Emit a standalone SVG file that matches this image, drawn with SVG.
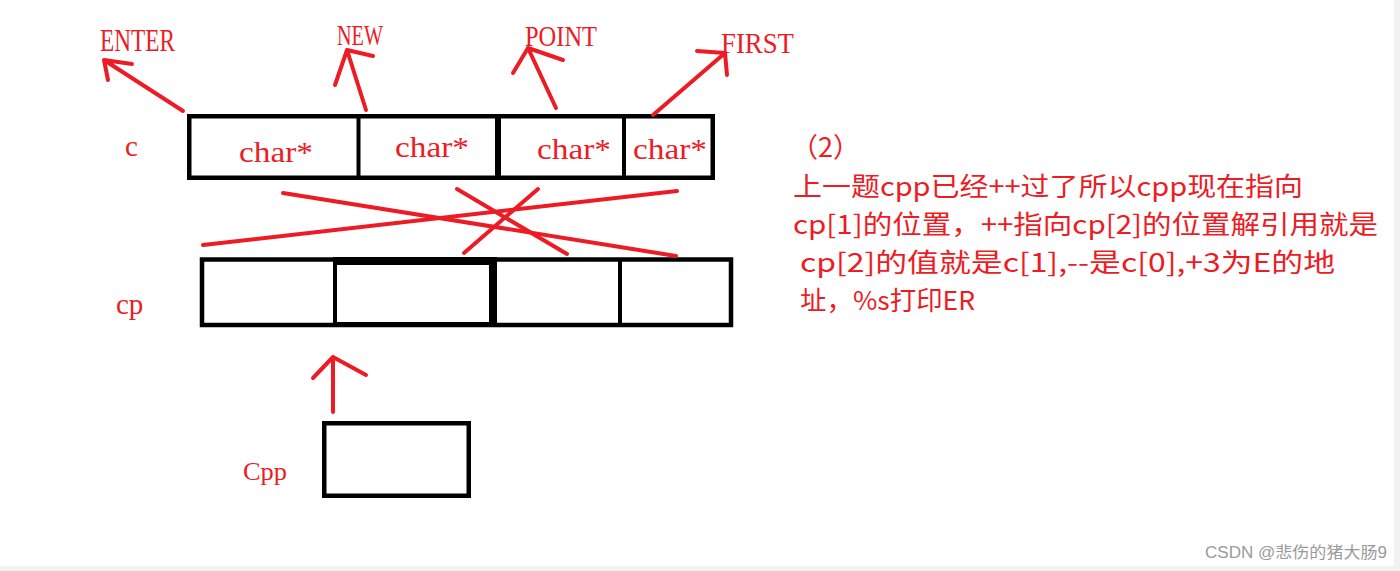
<svg xmlns="http://www.w3.org/2000/svg" width="1400" height="571" viewBox="0 0 1400 571">
<style>
.box{fill:none;stroke:#000;stroke-width:4.5}
.dv{stroke:#000;stroke-width:4}
.pen{fill:none;stroke:#ED1C24;stroke-width:4;stroke-linecap:round;stroke-linejoin:round}
.lbl{font-family:"Liberation Serif",serif;fill:#ED1C24}
.cjk{font-family:"Noto Sans CJK SC",sans-serif;fill:#ED1C24;font-size:26px}
.wm{font-family:"Liberation Sans","Noto Sans CJK SC",sans-serif;fill:#9a9a9a;font-size:16px}
</style>
<rect x="0" y="0" width="1400" height="571" fill="#f2f2f2"/>
<rect x="0" y="0" width="1394" height="566" fill="#ffffff"/>

<g id="label-enter"><text class="lbl" x="100" y="51" font-size="32" textLength="75" lengthAdjust="spacingAndGlyphs">ENTER</text></g>
<g id="label-new"><text class="lbl" x="337" y="45" font-size="30" textLength="46" lengthAdjust="spacingAndGlyphs">NEW</text></g>
<g id="label-point"><text class="lbl" x="525" y="46" font-size="30" textLength="72" lengthAdjust="spacingAndGlyphs">POINT</text></g>
<g id="label-first"><text class="lbl" x="721" y="53" font-size="30" textLength="73" lengthAdjust="spacingAndGlyphs">FIRST</text></g>

<g id="node-c">
<text class="lbl" x="125" y="156" font-size="29">c</text>
<rect class="box" x="189.25" y="116.25" width="523.5" height="61.5"/>
<line class="dv" x1="358.5" y1="116" x2="358.5" y2="178"/>
<line class="dv" x1="498" y1="116" x2="498" y2="178" style="stroke-width:6"/>
<line class="dv" x1="624" y1="116" x2="624" y2="178"/>
<text class="lbl" x="239" y="162" font-size="29" textLength="74" lengthAdjust="spacingAndGlyphs">char*</text>
<text class="lbl" x="395" y="157" font-size="29" textLength="74" lengthAdjust="spacingAndGlyphs">char*</text>
<text class="lbl" x="537" y="159" font-size="29" textLength="74" lengthAdjust="spacingAndGlyphs">char*</text>
<text class="lbl" x="633" y="159" font-size="29" textLength="74" lengthAdjust="spacingAndGlyphs">char*</text>
</g>

<g id="node-cp">
<text class="lbl" x="116" y="314" font-size="29">cp</text>
<rect class="box" x="202" y="259.5" width="529" height="65.5"/>
<rect x="333" y="257" width="164" height="70" fill="#000"/>
<rect x="337" y="265" width="152" height="57" fill="#fff"/>
<line class="dv" x1="620" y1="259" x2="620" y2="325"/>
</g>

<g id="node-cpp">
<text class="lbl" x="243" y="480" font-size="25" textLength="44" lengthAdjust="spacingAndGlyphs">Cpp</text>
<rect class="box" x="324.25" y="423.25" width="144.5" height="72.5"/>
</g>

<g id="note">
<text class="cjk" x="791" y="157" style="font-size:27px">（2）</text>
<text class="cjk" x="793" y="196" textLength="510" lengthAdjust="spacingAndGlyphs">上一题cpp已经++过了所以cpp现在指向</text>
<text class="cjk" x="793" y="234" textLength="585" lengthAdjust="spacingAndGlyphs">cp[1]的位置，++指向cp[2]的位置解引用就是</text>
<text class="cjk" x="800" y="272" textLength="535" lengthAdjust="spacingAndGlyphs">cp[2]的值就是c[1],--是c[0],+3为E的地</text>
<text class="cjk" x="800" y="310" textLength="175" lengthAdjust="spacingAndGlyphs">址，%s打印ER</text>
</g>

<g id="connectors">
<path class="pen" d="M183,111 L104,60 M108,80 L104,60 L132,64"/>
<path class="pen" d="M366,110 L347,50 M335,85 L347,50 L373,56"/>
<path class="pen" d="M556,108 L528,48 M513,73 L528,48 L563,60"/>
<path class="pen" d="M653,115 L725,53 M697,51 L725,53 L727,75"/>
<path class="pen" d="M283,193 L676,256"/>
<path class="pen" d="M203,245 L677,191"/>
<path class="pen" d="M457,189 L567,254"/>
<path class="pen" d="M538,189 L464,253"/>
<path class="pen" d="M333,412 L333,357 M313,378 L333,357 L366,375"/>
</g>

<g id="watermark"><text class="wm" x="1205" y="558" textLength="182" lengthAdjust="spacingAndGlyphs">CSDN @悲伤的猪大肠9</text></g>
</svg>
